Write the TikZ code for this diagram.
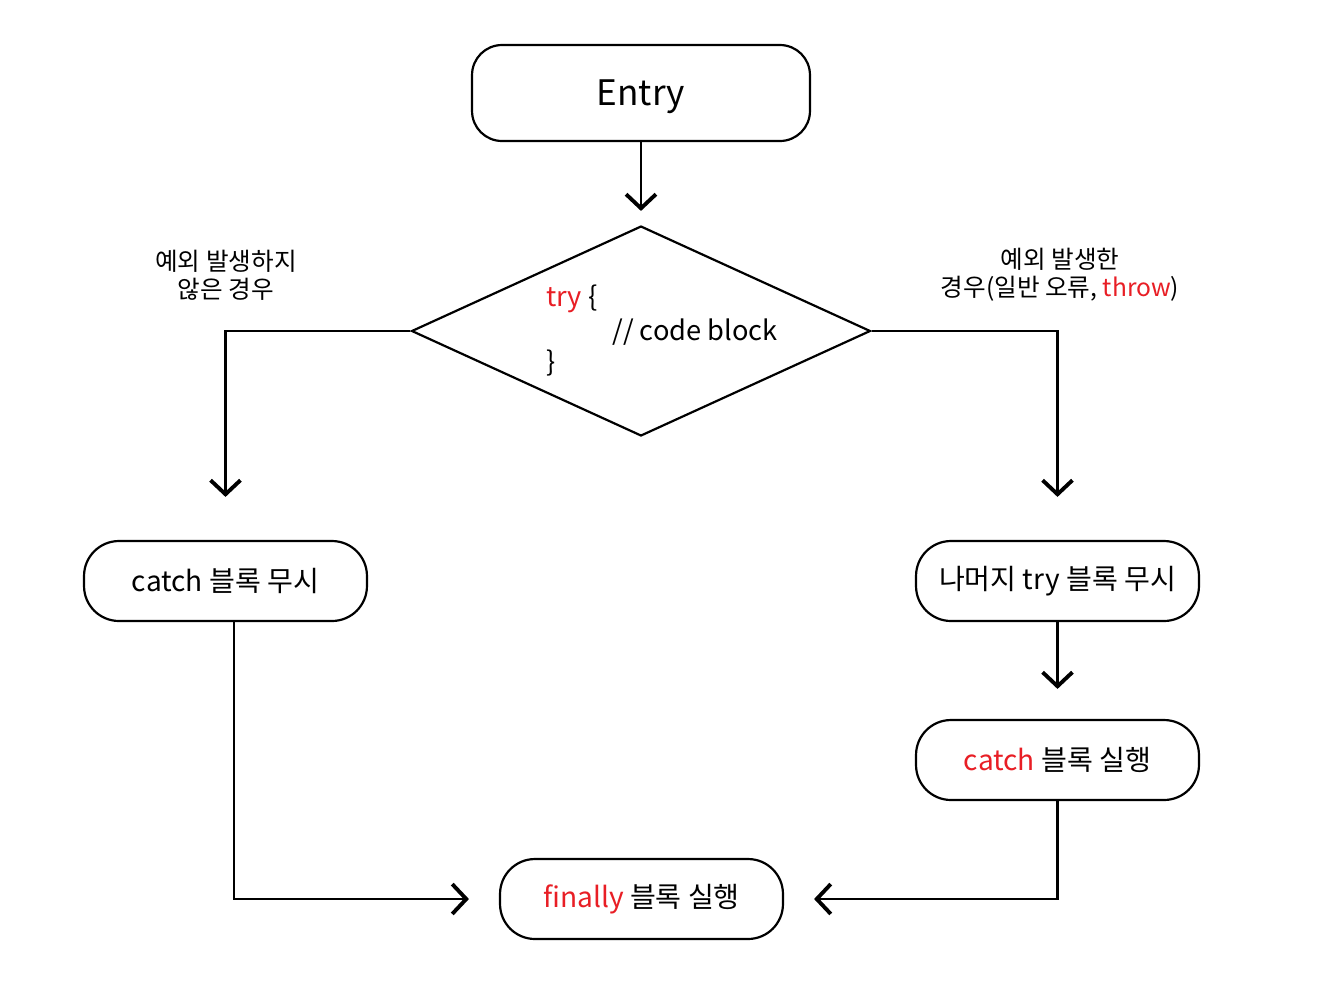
\documentclass[tikz,border=0pt]{standalone}
\usepackage{fontspec}
\setmainfont{Noto Sans CJK KR}
\usetikzlibrary{shapes.geometric,arrows.meta}
\definecolor{kwred}{RGB}{232,30,37}
\tikzset{
  flowbox/.style={draw,line width=1.25pt,rounded corners=0.7cm,
    minimum width=5.66cm,minimum height=1.6cm,font=\fontsize{16}{19}\selectfont},
  flowarr/.style={line width=1.25pt,
    -{Straight Barb[length=8pt,width=17pt,line width=2.2pt]}},
  codetxt/.style={inner sep=0pt,font=\fontsize{15.5}{18}\selectfont},
  sidetxt/.style={align=center,font=\fontsize{14}{16}\selectfont}
}
\begin{document}
\begin{tikzpicture}[x=0.02cm,y=-0.02cm]
\useasboundingbox (0,0) rectangle (1326,992);
% boxes
\node[flowbox,minimum width=6.76cm,minimum height=1.92cm,rounded corners=0.6cm,
  font=\fontsize{20}{24}\selectfont,text depth=0pt] (entry) at (641,93) {Entry};
\node[draw,diamond,line width=1.25pt,inner sep=0pt,
  minimum width=9.18cm,minimum height=4.2cm] (try) at (641,331) {};
\node[codetxt,anchor=base west] (tryopen) at (546,306) {\textcolor{kwred}{try} \{};
\node[codetxt,anchor=base west] (trycode) at (612,340) {// code block};
\node[codetxt,anchor=base west] (tryclose) at (546,371) {\}};
\node[flowbox] (skip) at (225.5,581) {catch 블록 무시};
\node[flowbox] (rest) at (1057.5,581) {나머지 try 블록 무시};
\node[flowbox] (catchrun) at (1057.5,760) {\textcolor{kwred}{catch} 블록 실행};
\node[flowbox] (final) at (641.5,899) {\textcolor{kwred}{finally} 블록 실행};
% labels
\node[sidetxt] (nolab) at (226,275) {예외 발생하지\\않은 경우};
\node[sidetxt] (yeslab) at (1060,275) {예외 발생한\\경우(일반 오류, \textcolor{kwred}{throw})};
% connectors
\draw[flowarr,shorten >=0.28cm] (entry.south) -- (try.north);
\draw[flowarr,shorten >=0.86cm] (try.west) -| (skip.north);
\draw[flowarr,shorten >=0.86cm] (try.east) -| (rest.north);
\draw[flowarr,shorten >=0.6cm] (rest.south) -- (catchrun.north);
\draw[flowarr,shorten >=0.6cm] ([xshift=0.17cm]skip.south) |- (final.west);
\draw[flowarr,shorten >=0.6cm] (catchrun.south) |- (final.east);
\end{tikzpicture}
\end{document}
